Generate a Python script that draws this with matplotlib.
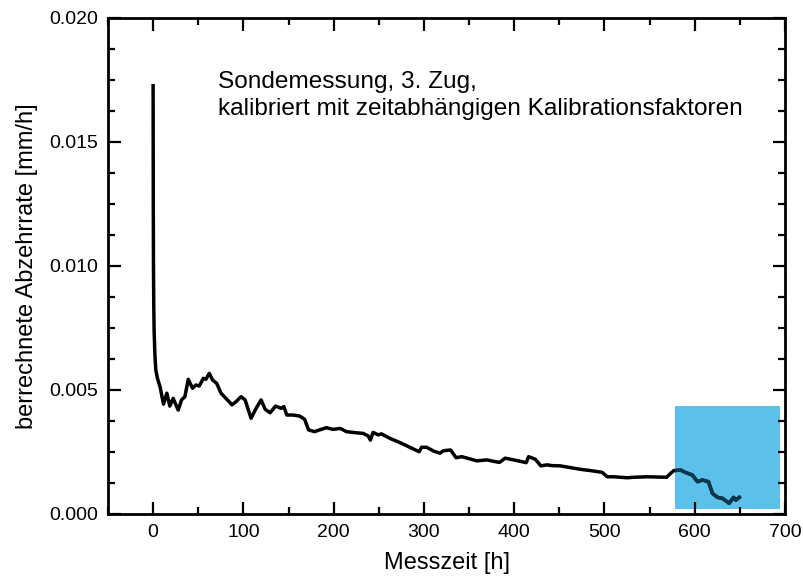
import matplotlib
matplotlib.use("Agg")
import matplotlib.pyplot as plt
from matplotlib.ticker import MultipleLocator
from matplotlib.patches import Rectangle
import numpy as np

plt.rcParams['font.family'] = ['Liberation Sans', 'DejaVu Sans']

time_h = [0.0, 0.2, 0.4, 0.7, 1.1, 2.0, 3.0, 4.8, 7.8, 11.5, 15.2, 18.5, 22.2, 27.8, 31.5, 35.2,
          38.9, 43.7, 47.4, 51.1, 55.6, 58.5, 62.2, 65.9, 70.4, 75.2, 80.7, 87.4, 91.9, 97.4,
          101.9, 108.5, 114.1, 119.6, 124.1, 129.6, 135.6, 141.9, 144.8, 148.1, 154.8, 162.2,
          167.8, 172.2, 178.9, 184.4, 191.9, 199.3, 207.4, 214.1, 223.3, 232.6, 238.1, 240.7,
          243.7, 249.3, 253.0, 262.2, 273.3, 294.8, 297.4, 303.0, 310.4, 317.8, 321.5, 329.6,
          335.6, 341.9, 351.1, 358.5, 369.6, 378.9, 383.7, 390.0, 399.3, 413.3, 415.9, 423.3,
          429.6, 436.3, 441.9, 451.1, 462.2, 473.3, 484.4, 497.4, 503.0, 510.4, 525.2, 532.6,
          547.4, 558.5, 568.9, 573.3, 577.0, 584.4, 590.0, 597.4, 603.0, 608.5, 615.2, 619.6,
          625.2, 630.7, 638.1, 643.0, 645.6, 649.3]
rate = [0.01727, 0.0125, 0.0100, 0.0085, 0.0074, 0.0064, 0.0058, 0.00547, 0.00511, 0.00443,
        0.00487, 0.00435, 0.00466, 0.00419, 0.00460, 0.00473, 0.00543, 0.00507, 0.00520,
        0.00516, 0.00547, 0.00543, 0.00567, 0.00540, 0.00527, 0.00487, 0.00466, 0.00440,
        0.00453, 0.00473, 0.00460, 0.00386, 0.00426, 0.00460, 0.00422, 0.00408, 0.00435,
        0.00426, 0.00433, 0.00399, 0.00399, 0.00395, 0.00382, 0.00339, 0.00332, 0.00339,
        0.00348, 0.00341, 0.00345, 0.00332, 0.00328, 0.00325, 0.00315, 0.00298, 0.00329,
        0.00319, 0.00323, 0.00305, 0.00288, 0.00251, 0.00269, 0.00269, 0.00254, 0.00245,
        0.00255, 0.00258, 0.00227, 0.00231, 0.00222, 0.00214, 0.00218, 0.00211, 0.00208,
        0.00225, 0.00218, 0.00207, 0.00231, 0.00221, 0.00194, 0.00198, 0.00195, 0.00194,
        0.00187, 0.00180, 0.00175, 0.00168, 0.00150, 0.00150, 0.00146, 0.00148, 0.00150,
        0.00149, 0.00148, 0.00164, 0.00175, 0.00177, 0.00167, 0.00157, 0.00130, 0.00137,
        0.00130, 0.00083, 0.00067, 0.00063, 0.00043, 0.00067, 0.00056, 0.00067]

# highlighted region (data units)
hl_x0, hl_x1 = 578.0, 694.0
hl_y0, hl_y1 = 0.0002, 0.00435

annotation = "Sondemessung, 3. Zug,\nkalibriert mit zeitabhängigen Kalibrationsfaktoren"

fig = plt.figure(figsize=(8.04, 5.88), dpi=100)
ax = fig.add_axes([0.1343, 0.1259, 0.8421, 0.8435])

rect = Rectangle((hl_x0, hl_y0), hl_x1 - hl_x0, hl_y1 - hl_y0,
                 facecolor='#5bc1ea', edgecolor='none', zorder=1)
ax.add_patch(rect)
ax.plot(time_h, rate, color='black', lw=2.5, zorder=2, solid_joinstyle='round')
line2, = ax.plot(time_h, rate, color='#0b3a4f', lw=2.5, zorder=3, solid_joinstyle='round')
line2.set_clip_path(rect)

ax.set_xlim(-50, 700)
ax.set_ylim(0, 0.020)
ax.xaxis.set_major_locator(MultipleLocator(100))
ax.xaxis.set_minor_locator(MultipleLocator(50))
ax.yaxis.set_major_locator(MultipleLocator(0.005))
ax.yaxis.set_minor_locator(MultipleLocator(0.00125))
ax.yaxis.set_major_formatter(matplotlib.ticker.FormatStrFormatter('%.3f'))

ax.tick_params(which='both', direction='in', top=True, right=True, labelsize=14, width=1.6)
ax.tick_params(which='major', length=9, pad=7)
ax.tick_params(which='minor', length=5)
for s in ax.spines.values():
    s.set_linewidth(2)

ax.set_xlabel("Messzeit [h]", fontsize=17, labelpad=8)
ax.set_ylabel("berrechnete Abzehrrate [mm/h]", fontsize=17, labelpad=8)

ax.text(0.163, 0.794, annotation, transform=ax.transAxes, fontsize=17.6,
        ha='left', va='bottom', linespacing=1.3)

fig.savefig("out.png", dpi=100)
